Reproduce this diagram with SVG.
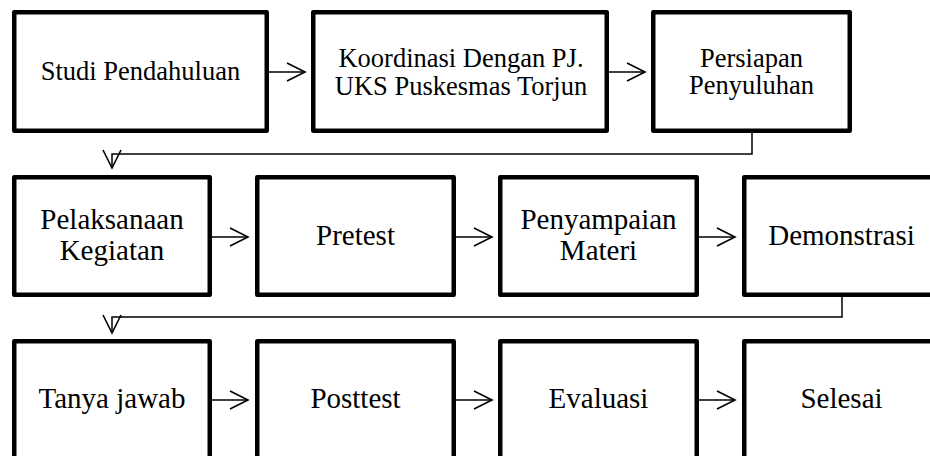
<svg xmlns="http://www.w3.org/2000/svg" width="930" height="456" viewBox="0 0 930 456">
<defs>
<style>
.box{fill:#fff;stroke:#000;stroke-width:4.5;stroke-linejoin:round}
text{font-family:'Liberation Serif','Times New Roman',Times,serif;fill:#000;text-anchor:middle}
.t1{font-size:26.5px}
.t2{font-size:29px}
.c{fill:none;stroke:#000;stroke-width:1.5}
</style>
<marker id="ah" markerUnits="userSpaceOnUse" orient="auto" markerWidth="24" markerHeight="24" viewBox="-20 -12 24 24" refX="0" refY="0">
<path d="M-18,-9 L0,0 L-18,9" fill="none" stroke="#000" stroke-width="1.6"/>
</marker>
</defs>
<rect width="930" height="456" fill="#fff"/>
<g id="connectors">
<path class="c" d="M269,72 H305" marker-end="url(#ah)"/>
<path class="c" d="M609,72 H645" marker-end="url(#ah)"/>
<path class="c" d="M752,133 V154 H112 V168" marker-end="url(#ah)"/>
<path class="c" d="M212,237 H248" marker-end="url(#ah)"/>
<path class="c" d="M456,237 H492" marker-end="url(#ah)"/>
<path class="c" d="M699,237 H735" marker-end="url(#ah)"/>
<path class="c" d="M842,297 V317 H112 V333" marker-end="url(#ah)"/>
<path class="c" d="M212,400 H248" marker-end="url(#ah)"/>
<path class="c" d="M456,400 H492" marker-end="url(#ah)"/>
<path class="c" d="M699,400 H735" marker-end="url(#ah)"/>
</g>
<g id="n1"><rect class="box" x="14.25" y="12.25" width="252.5" height="118.5"/><text class="t1" x="140.5" y="80">Studi Pendahuluan</text></g>
<g id="n2"><rect class="box" x="313.25" y="12.25" width="293.5" height="118.5"/><text class="t1" x="461" y="67.3">Koordinasi Dengan PJ.</text><text class="t1" x="461" y="94.5">UKS Puskesmas Torjun</text></g>
<g id="n3"><rect class="box" x="653.25" y="12.25" width="196.5" height="118.5"/><text class="t1" x="751.5" y="66.8">Persiapan</text><text class="t1" x="751.5" y="94.2">Penyuluhan</text></g>
<g id="n4"><rect class="box" x="14.25" y="177.25" width="195.5" height="117.5"/><text class="t2" x="112" y="229.3">Pelaksanaan</text><text class="t2" x="112" y="260">Kegiatan</text></g>
<g id="n5"><rect class="box" x="257.25" y="177.25" width="196.5" height="117.5"/><text class="t2" x="355.5" y="245">Pretest</text></g>
<g id="n6"><rect class="box" x="500.25" y="177.25" width="196.5" height="117.5"/><text class="t2" x="598.5" y="229.3">Penyampaian</text><text class="t2" x="598.5" y="260">Materi</text></g>
<g id="n7"><rect class="box" x="744.25" y="177.25" width="196.5" height="117.5"/><text class="t2" x="841.5" y="245">Demonstrasi</text></g>
<g id="n8"><rect class="box" x="14.25" y="341.25" width="195.5" height="150"/><text class="t2" x="112" y="408">Tanya jawab</text></g>
<g id="n9"><rect class="box" x="257.25" y="341.25" width="196.5" height="150"/><text class="t2" x="355.5" y="408">Posttest</text></g>
<g id="n10"><rect class="box" x="500.25" y="341.25" width="196.5" height="150"/><text class="t2" x="598.5" y="408">Evaluasi</text></g>
<g id="n11"><rect class="box" x="744.25" y="341.25" width="196.5" height="150"/><text class="t2" x="841.5" y="408">Selesai</text></g>
</svg>
